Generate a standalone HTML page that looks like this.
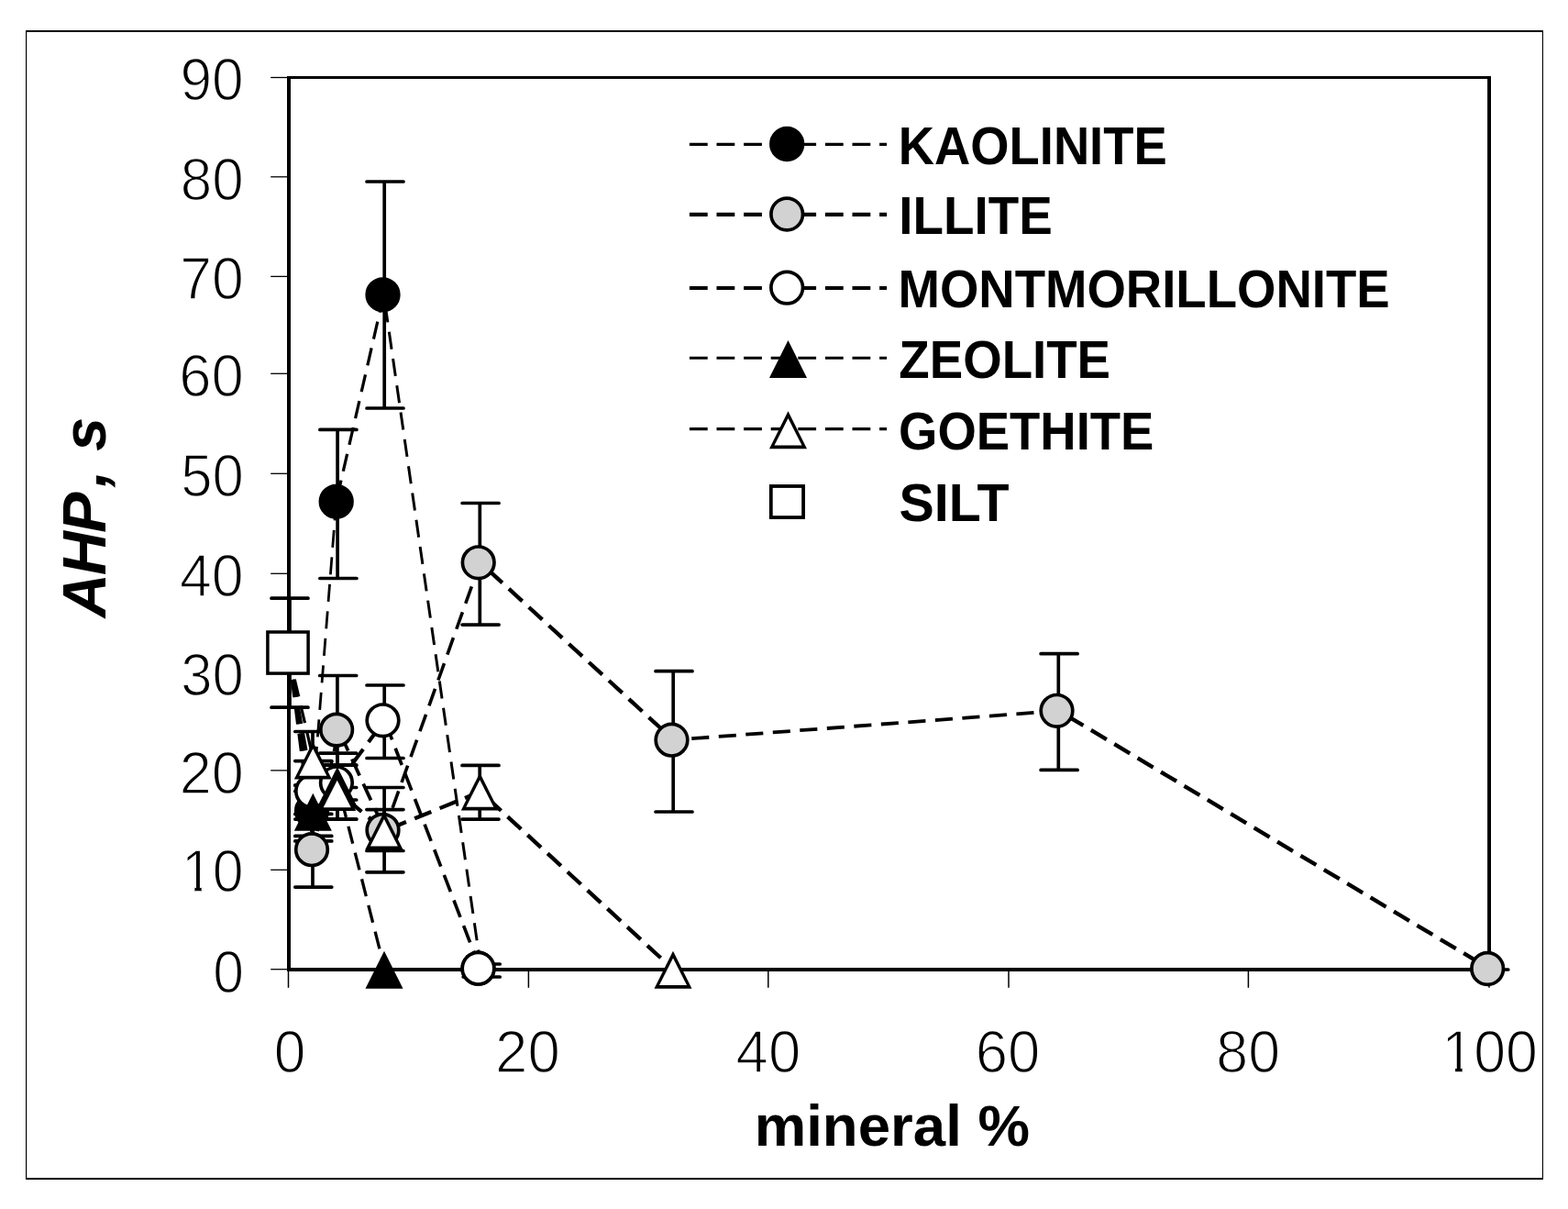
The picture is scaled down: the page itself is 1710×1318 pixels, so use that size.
<!DOCTYPE html>
<html lang="en"><head><meta charset="utf-8"><title>AHP vs mineral %</title>
<style>html,body{margin:0;padding:0;background:#fff}body{width:1710px;height:1318px;overflow:hidden}svg{display:block}text{font-family:"Liberation Sans",sans-serif;fill:#000;white-space:pre}.tick{font-weight:normal;stroke:#fff;stroke-width:1.5px;paint-order:fill stroke}.leg{font-weight:bold}.ttl{font-weight:bold}.ytl{font-weight:bold;font-style:italic}</style></head><body>
<svg width="1710" height="1318" viewBox="0 0 1710 1318" role="img" aria-label="AHP versus mineral percentage">
<rect x="0" y="0" width="1710" height="1318" fill="#fff"/>
<defs><clipPath id="nofoot" clipPathUnits="userSpaceOnUse"><path d="M-10 -100 H400 V12 H33.47 V-5.73 H22.95 V12 H15.24 V-5.73 H-10 Z"/></clipPath></defs>
<path d="M28 33H1683V35H28Z M28 1284H1683V1286H28Z M28 33H29.2V1286H28Z M1681.9 33H1683V1286H1681.9Z" fill="#000"/>
<rect x="313" y="83" width="1313" height="976" fill="#fff"/>
<path d="M313 83H1626V86.1H313Z M313 1055.1H1626V1058.9H313Z M313 83H317V1058.9H313Z M1622.1 83H1626V1058.9H1622.1Z" fill="#000"/>
<line x1="295.2" y1="84.5" x2="315" y2="84.5" stroke="#000" stroke-width="1.3"/>
<line x1="295.2" y1="192.8" x2="315" y2="192.8" stroke="#000" stroke-width="1.3"/>
<line x1="295.2" y1="301.4" x2="315" y2="301.4" stroke="#000" stroke-width="1.3"/>
<line x1="295.2" y1="407.3" x2="315" y2="407.3" stroke="#000" stroke-width="1.3"/>
<line x1="295.2" y1="516.3" x2="315" y2="516.3" stroke="#000" stroke-width="1.3"/>
<line x1="295.2" y1="625.3" x2="315" y2="625.3" stroke="#000" stroke-width="1.3"/>
<line x1="295.2" y1="733" x2="315" y2="733" stroke="#000" stroke-width="1.3"/>
<line x1="295.2" y1="839.9" x2="315" y2="839.9" stroke="#000" stroke-width="1.3"/>
<line x1="295.2" y1="948.3" x2="315" y2="948.3" stroke="#000" stroke-width="1.3"/>
<line x1="295.2" y1="1056.7" x2="315" y2="1056.7" stroke="#000" stroke-width="1.3"/>
<text class="tick" font-size="64.6" transform="translate(196.50 108.55) scale(0.9634 1)">90</text>
<text class="tick" font-size="64.6" transform="translate(196.81 217.85) scale(0.9589 1)">80</text>
<text class="tick" font-size="64.6" transform="translate(196.17 325.75) scale(0.9681 1)">70</text>
<text class="tick" font-size="64.6" transform="translate(195.23 431.65) scale(0.9817 1)">60</text>
<text class="tick" font-size="64.6" transform="translate(197.13 540.85) scale(0.9542 1)">50</text>
<text class="tick" font-size="64.6" transform="translate(196.03 649.55) scale(0.9701 1)">40</text>
<text class="tick" font-size="64.6" transform="translate(197.13 757.65) scale(0.9542 1)">30</text>
<text class="tick" font-size="64.6" transform="translate(195.65 864.55) scale(0.9756 1)">20</text>
<text class="tick" font-size="64.6" transform="translate(198.09 972.45) scale(0.9405 1)" clip-path="url(#nofoot)">10</text>
<text class="tick" font-size="64.6" transform="translate(232.17 1081.55) scale(0.9386 1)">0</text>
<line x1="314.5" y1="1057" x2="314.5" y2="1076.8" stroke="#000" stroke-width="1.5"/>
<line x1="576.4" y1="1057" x2="576.4" y2="1076.8" stroke="#000" stroke-width="1.5"/>
<line x1="837.8" y1="1057" x2="837.8" y2="1076.8" stroke="#000" stroke-width="1.5"/>
<line x1="1100" y1="1057" x2="1100" y2="1076.8" stroke="#000" stroke-width="1.5"/>
<line x1="1361.4" y1="1057" x2="1361.4" y2="1076.8" stroke="#000" stroke-width="1.5"/>
<line x1="1624" y1="1057" x2="1624" y2="1076.8" stroke="#000" stroke-width="1.5"/>
<text class="tick" font-size="64.6" transform="translate(298.71 1168.75) scale(0.9646 1)">0</text>
<text class="tick" font-size="64.6" transform="translate(540.12 1168.75) scale(0.9832 1)">20</text>
<text class="tick" font-size="64.6" transform="translate(802.61 1168.75) scale(0.9833 1)">40</text>
<text class="tick" font-size="64.6" transform="translate(1063.72 1168.75) scale(0.9832 1)">60</text>
<text class="tick" font-size="64.6" transform="translate(1326.28 1168.75) scale(0.9709 1)">80</text>
<text class="tick" font-size="64.6" transform="translate(1572.31 1168.75) scale(0.9705 1)" clip-path="url(#nofoot)">100</text>
<text class="ttl" font-size="63.4" transform="translate(822.67 1249.20) scale(1.0029 1)">mineral %</text>
<text class="ytl" font-size="66.7" transform="translate(115 673.3) rotate(-90)"><tspan letter-spacing="-2">AHP</tspan><tspan dx="7.5">,</tspan><tspan dx="2"> s</tspan></text>
<path d="M314.5 711.7 L340 884" fill="none" stroke="#000" stroke-width="3.00" stroke-dasharray="19.2 10.4" stroke-dashoffset="0.0"/>
<path d="M340 884 L366.7 546.8" fill="none" stroke="#000" stroke-width="2.78" stroke-dasharray="19.1 10.5" stroke-dashoffset="8.0"/>
<path d="M366.7 546.8 L418.5 321.3" fill="none" stroke="#000" stroke-width="3.24" stroke-dasharray="19.4 10.2" stroke-dashoffset="25.3"/>
<path d="M418.5 321.3 L524.5 1055.7" fill="none" stroke="#000" stroke-width="2.99" stroke-dasharray="19.2 10.4" stroke-dashoffset="18.4"/>
<path d="M314.5 711.7 L342 926.2" fill="none" stroke="#000" stroke-width="2.94" stroke-dasharray="19.2 10.4" stroke-dashoffset="0.0"/>
<path d="M342 926.2 L369.1 795.6" fill="none" stroke="#000" stroke-width="3.18" stroke-dasharray="19.3 10.3" stroke-dashoffset="9.1"/>
<path d="M369.1 795.6 L419.5 904.9" fill="none" stroke="#000" stroke-width="3.78" stroke-dasharray="19.7 9.9" stroke-dashoffset="24.0"/>
<path d="M419.5 904.9 L523.7 613.3" fill="none" stroke="#000" stroke-width="3.57" stroke-dasharray="19.6 10.0" stroke-dashoffset="4.1"/>
<path d="M523.7 613.3 L734.5 806.7" fill="none" stroke="#000" stroke-width="4.34" stroke-dasharray="19.9 9.7" stroke-dashoffset="16.8"/>
<path d="M734.5 806.7 L1154.5 774.8" fill="none" stroke="#000" stroke-width="3.78" stroke-dasharray="19.1 10.5" stroke-dashoffset="9.8"/>
<path d="M1154.5 774.8 L1624.2 1056" fill="none" stroke="#000" stroke-width="4.37" stroke-dasharray="19.8 9.8" stroke-dashoffset="18.0"/>
<path d="M314.5 711.7 L342.1 862.5" fill="none" stroke="#000" stroke-width="3.11" stroke-dasharray="19.3 10.3" stroke-dashoffset="0.0"/>
<path d="M342.1 862.5 L368.9 853.3" fill="none" stroke="#000" stroke-width="4.22" stroke-dasharray="19.6 10.0" stroke-dashoffset="5.3"/>
<path d="M368.9 853.3 L419.5 785.3" fill="none" stroke="#000" stroke-width="4.15" stroke-dasharray="19.9 9.7" stroke-dashoffset="4.0"/>
<path d="M419.5 785.3 L523.5 1055.7" fill="none" stroke="#000" stroke-width="3.63" stroke-dasharray="19.6 10.0" stroke-dashoffset="26.6"/>
<path d="M314.5 711.7 L342 885.3" fill="none" stroke="#000" stroke-width="3.03" stroke-dasharray="19.2 10.4" stroke-dashoffset="0.0"/>
<path d="M342 885.3 L368.6 856.4" fill="none" stroke="#000" stroke-width="4.28" stroke-dasharray="19.9 9.7" stroke-dashoffset="27.8"/>
<path d="M368.6 856.4 L419.7 1057.2" fill="none" stroke="#000" stroke-width="3.31" stroke-dasharray="19.4 10.2" stroke-dashoffset="13.3"/>
<path d="M314.5 711.7 L342 828.9" fill="none" stroke="#000" stroke-width="3.26" stroke-dasharray="19.4 10.2" stroke-dashoffset="0.0"/>
<path d="M342 828.9 L368.4 863.4" fill="none" stroke="#000" stroke-width="4.17" stroke-dasharray="19.9 9.7" stroke-dashoffset="2.0"/>
<path d="M368.4 863.4 L419.6 905.6" fill="none" stroke="#000" stroke-width="4.37" stroke-dasharray="19.9 9.7" stroke-dashoffset="15.8"/>
<path d="M419.6 905.6 L524 863" fill="none" stroke="#000" stroke-width="4.28" stroke-dasharray="19.6 10.0" stroke-dashoffset="24.0"/>
<path d="M524 863 L734.7 1057.3" fill="none" stroke="#000" stroke-width="4.34" stroke-dasharray="19.9 9.7" stroke-dashoffset="18.9"/>
<path d="M341 856 V911.4M321.8 856 H361.8M321.8 911.4 H361.8" fill="none" stroke="#000" stroke-width="3.7" stroke-linecap="round"/>
<path d="M368.1 468.4 V630.5M348.9 468.4 H388.9M348.9 630.5 H388.9" fill="none" stroke="#000" stroke-width="3.7" stroke-linecap="round"/>
<path d="M419.2 198 V445M400 198 H440M400 445 H440" fill="none" stroke="#000" stroke-width="3.7" stroke-linecap="round"/>
<path d="M524.4 1051 V1057M505.2 1051 H545.2M505.2 1057 H545.2" fill="none" stroke="#000" stroke-width="3.7" stroke-linecap="round"/>
<path d="M341 887.4 V967.1M321.8 887.4 H361.8M321.8 967.1 H361.8" fill="none" stroke="#000" stroke-width="3.7" stroke-linecap="round"/>
<path d="M367.9 736.5 V858.5M348.7 736.5 H388.7M348.7 858.5 H388.7" fill="none" stroke="#000" stroke-width="3.7" stroke-linecap="round"/>
<path d="M419.1 882.6 V927.5M399.9 882.6 H439.9M399.9 927.5 H439.9" fill="none" stroke="#000" stroke-width="3.7" stroke-linecap="round"/>
<path d="M523.3 548.5 V681.1M504.1 548.5 H544.1M504.1 681.1 H544.1" fill="none" stroke="#000" stroke-width="3.7" stroke-linecap="round"/>
<path d="M734.2 731.7 V885M715 731.7 H755M715 885 H755" fill="none" stroke="#000" stroke-width="3.7" stroke-linecap="round"/>
<path d="M1154.3 712.7 V839.4M1135.1 712.7 H1175.1M1135.1 839.4 H1175.1" fill="none" stroke="#000" stroke-width="3.7" stroke-linecap="round"/>
<path d="M1604.8 1057 H1644.8" fill="none" stroke="#000" stroke-width="3.7" stroke-linecap="round"/>
<path d="M341 829.6 V893.1M321.8 829.6 H361.8M321.8 893.1 H361.8" fill="none" stroke="#000" stroke-width="3.7" stroke-linecap="round"/>
<path d="M367.9 834.2 V872M348.7 834.2 H388.7M348.7 872 H388.7" fill="none" stroke="#000" stroke-width="3.7" stroke-linecap="round"/>
<path d="M419.2 747 V826.5M400 747 H440M400 826.5 H440" fill="none" stroke="#000" stroke-width="3.7" stroke-linecap="round"/>
<path d="M524.4 1057 V1065M505.2 1057 H545.2M505.2 1065 H545.2" fill="none" stroke="#000" stroke-width="3.7" stroke-linecap="round"/>
<path d="M341 856 V916.9M321.8 856 H361.8M321.8 916.9 H361.8" fill="none" stroke="#000" stroke-width="3.7" stroke-linecap="round"/>
<path d="M367.9 821.2 V893.1M348.7 821.2 H388.7M348.7 893.1 H388.7" fill="none" stroke="#000" stroke-width="3.7" stroke-linecap="round"/>
<path d="M400.5 1057 H440.5" fill="none" stroke="#000" stroke-width="3.7" stroke-linecap="round"/>
<path d="M341 797.5 V862.5M321.8 797.5 H361.8M321.8 862.5 H361.8" fill="none" stroke="#000" stroke-width="3.7" stroke-linecap="round"/>
<path d="M367.9 834.2 V893.1M348.7 834.2 H388.7M348.7 893.1 H388.7" fill="none" stroke="#000" stroke-width="3.7" stroke-linecap="round"/>
<path d="M419.1 858.5 V950.8M399.9 858.5 H439.9M399.9 950.8 H439.9" fill="none" stroke="#000" stroke-width="3.7" stroke-linecap="round"/>
<path d="M523.2 834.4 V893.1M504 834.4 H544M504 893.1 H544" fill="none" stroke="#000" stroke-width="3.7" stroke-linecap="round"/>
<path d="M715.3 1057 H755.3" fill="none" stroke="#000" stroke-width="3.7" stroke-linecap="round"/>
<circle cx="340" cy="884" r="17.3" fill="#000" stroke="#000" stroke-width="3.7"/>
<circle cx="366.7" cy="546.8" r="17.3" fill="#000" stroke="#000" stroke-width="3.7"/>
<circle cx="417.5" cy="321.3" r="17.3" fill="#000" stroke="#000" stroke-width="3.7"/>
<circle cx="521.5" cy="1055.7" r="17.3" fill="#000" stroke="#000" stroke-width="3.7"/>
<circle cx="340" cy="926.2" r="17.3" fill="#d2d2d2" stroke="#000" stroke-width="3.7"/>
<circle cx="367.1" cy="795.6" r="17.3" fill="#d2d2d2" stroke="#000" stroke-width="3.7"/>
<circle cx="417.5" cy="904.9" r="17.3" fill="#d2d2d2" stroke="#000" stroke-width="3.7"/>
<circle cx="521.7" cy="613.3" r="17.3" fill="#d2d2d2" stroke="#000" stroke-width="3.7"/>
<circle cx="732.5" cy="806.7" r="17.3" fill="#d2d2d2" stroke="#000" stroke-width="3.7"/>
<circle cx="1152.5" cy="774.8" r="17.3" fill="#d2d2d2" stroke="#000" stroke-width="3.7"/>
<circle cx="1622.2" cy="1056" r="17.3" fill="#d2d2d2" stroke="#000" stroke-width="3.7"/>
<circle cx="340.1" cy="862.5" r="17.3" fill="#fff" stroke="#000" stroke-width="3.7"/>
<circle cx="366.9" cy="853.3" r="17.3" fill="#fff" stroke="#000" stroke-width="3.7"/>
<circle cx="417.5" cy="785.3" r="17.3" fill="#fff" stroke="#000" stroke-width="3.7"/>
<circle cx="521.5" cy="1055.7" r="17.3" fill="#fff" stroke="#000" stroke-width="3.7"/>
<path d="M341.3 864.8 L361.8 905.8 L320.8 905.8 Z" fill="#000"/>
<path d="M367.9 835.9 L388.4 876.9 L347.4 876.9 Z" fill="#000"/>
<path d="M419 1036.7 L439.5 1077.7 L398.5 1077.7 Z" fill="#000"/>
<path d="M341.3 808.4 L361.8 849.4 L320.8 849.4 Z" fill="#000"/>
<path d="M341.3 816.2 L356.3 845.7 L326.3 845.7 Z" fill="#fff"/>
<path d="M367.7 842.9 L388.2 883.9 L347.2 883.9 Z" fill="#000"/>
<path d="M367.7 850.7 L382.7 880.2 L352.7 880.2 Z" fill="#fff"/>
<path d="M418.9 885.1 L439.4 926.1 L398.4 926.1 Z" fill="#000"/>
<path d="M418.9 892.9 L433.9 922.4 L403.9 922.4 Z" fill="#fff"/>
<path d="M523.3 842.5 L543.8 883.5 L502.8 883.5 Z" fill="#000"/>
<path d="M523.3 850.3 L538.3 879.8 L508.3 879.8 Z" fill="#fff"/>
<path d="M734 1036.8 L754.5 1077.8 L713.5 1077.8 Z" fill="#000"/>
<path d="M734 1044.6 L749 1074.1 L719 1074.1 Z" fill="#fff"/>
<path d="M316 652.2 V771.2M296 652.2 H336M296 771.2 H336" fill="none" stroke="#000" stroke-width="3.7" stroke-linecap="round"/>
<rect x="291.9" y="689" width="44.2" height="45.1" fill="#fff" stroke="#000" stroke-width="3.5"/>
<line x1="751.9" y1="157.4" x2="967.1" y2="157.4" stroke="#000" stroke-width="3.1" stroke-dasharray="19.8 9.8"/>
<circle cx="858.2" cy="157" r="17.3" fill="#000" stroke="#000" stroke-width="3.7"/>
<text class="leg" font-size="57.6" transform="translate(979.87 178.80) scale(0.9434 1)">KAOLINITE</text>
<line x1="751.9" y1="233.9" x2="967.1" y2="233.9" stroke="#000" stroke-width="4.1" stroke-dasharray="19.8 9.8"/>
<circle cx="858.2" cy="233.5" r="17.3" fill="#d2d2d2" stroke="#000" stroke-width="3.7"/>
<text class="leg" font-size="57.6" transform="translate(980.24 255.00) scale(0.9516 1)">ILLITE</text>
<line x1="751.9" y1="314" x2="967.1" y2="314" stroke="#000" stroke-width="4.1" stroke-dasharray="19.8 9.8"/>
<circle cx="858.2" cy="313.6" r="17.3" fill="#fff" stroke="#000" stroke-width="3.7"/>
<text class="leg" font-size="57.6" transform="translate(979.45 335.00) scale(0.9471 1)">MONTMORILLONITE</text>
<line x1="751.9" y1="390.3" x2="967.1" y2="390.3" stroke="#000" stroke-width="3.1" stroke-dasharray="19.8 9.8"/>
<path d="M859.5 370.9 L880 411.9 L839 411.9 Z" fill="#000"/>
<text class="leg" font-size="57.6" transform="translate(980.36 412.20) scale(0.9485 1)">ZEOLITE</text>
<line x1="751.9" y1="467.6" x2="967.1" y2="467.6" stroke="#000" stroke-width="3.1" stroke-dasharray="19.8 9.8"/>
<path d="M859.5 448.2 L880 489.2 L839 489.2 Z" fill="#000"/>
<path d="M859.5 456 L874.5 485.5 L844.5 485.5 Z" fill="#fff"/>
<text class="leg" font-size="57.6" transform="translate(980.02 490.00) scale(0.9461 1)">GOETHITE</text>
<rect x="840.8" y="530" width="35.3" height="34.1" fill="#fff" stroke="#000" stroke-width="3.8"/>
<text class="leg" font-size="57.6" transform="translate(980.48 567.80) scale(0.9959 1)">SILT</text>
</svg></body></html>
